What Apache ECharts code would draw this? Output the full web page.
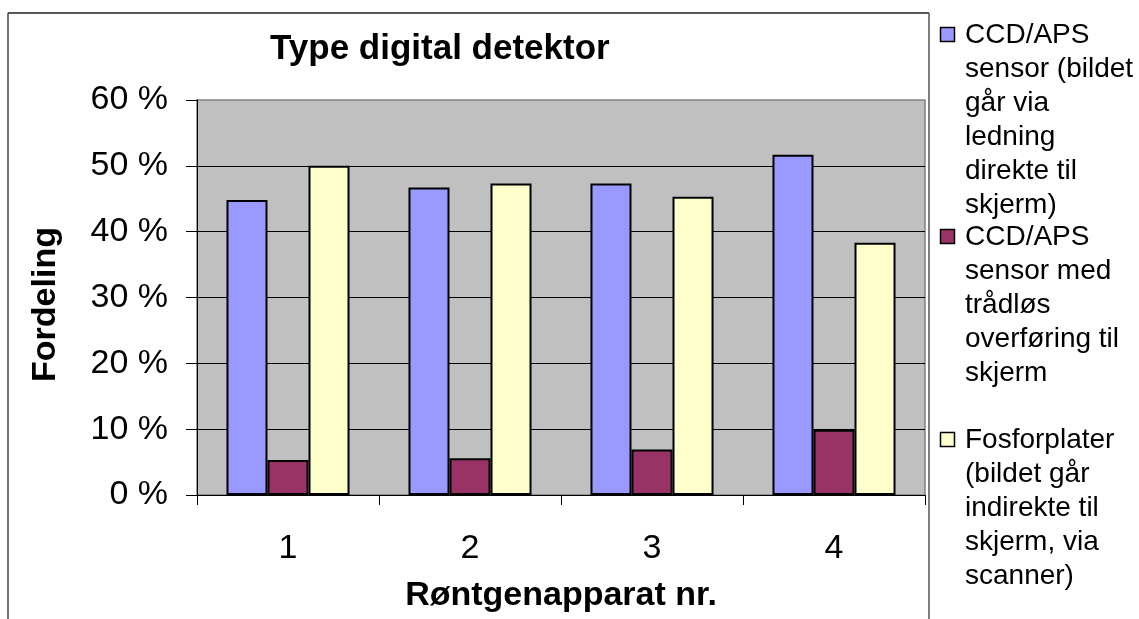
<!DOCTYPE html>
<html>
<head>
<meta charset="utf-8">
<script src="https://cdn.jsdelivr.net/npm/echarts@6/dist/echarts.min.js"></script>
<style>
  html, body { margin: 0; padding: 0; background: #fff; }
  #chart { width: 1139px; height: 619px; }
</style>
</head>
<body>
<div id="chart"></div>
<script>
// ---- data ----
var categories = ['1', '2', '3', '4'];
var seriesNames = [
  'CCD/APS sensor (bildet går via ledning direkte til skjerm)',
  'CCD/APS sensor med trådløs overføring til skjerm',
  'Fosforplater (bildet går indirekte til skjerm, via scanner)'
];
var legendLines = [
  'CCD/APS\nsensor (bildet\ngår via\nledning\ndirekte til\nskjerm)',
  'CCD/APS\nsensor med\ntrådløs\noverføring til\nskjerm',
  'Fosforplater\n(bildet går\nindirekte til\nskjerm, via\nscanner)'
];
var wiredValues = [44.8, 46.7, 47.3, 51.7];
var wirelessValues = [5.3, 5.6, 6.9, 9.9];
var phosphorValues = [50.0, 47.3, 45.3, 38.3];
var yTicks = [0, 10, 20, 30, 40, 50, 60];
var colors = ['#9999FF', '#993366', '#FFFFCC'];
var titleText = 'Type digital detektor';
var yName = 'Fordeling';
var xName = 'Røntgenapparat nr.';

var FONT = '"Liberation Sans", Arial, sans-serif';
var chart = echarts.init(document.getElementById('chart'));

var legendTops = [18, 220, 423];
var graphics = [
  { type: 'line', shape: { x1: 8, y1: 13, x2: 929, y2: 13 }, style: { stroke: '#222', lineWidth: 1.5 } },
  { type: 'line', shape: { x1: 8, y1: 13, x2: 8, y2: 619 }, style: { stroke: '#444', lineWidth: 1.5 } },
  { type: 'line', shape: { x1: 929, y1: 13, x2: 929, y2: 619 }, style: { stroke: '#555', lineWidth: 1.5 } }
];
legendLines.forEach(function (txt, i) {
  graphics.push({
    type: 'rect',
    shape: { x: 940.5, y: legendTops[i] + 9.5, width: 14, height: 14 },
    style: { fill: colors[i], stroke: '#000', lineWidth: 1.5 }
  });
  graphics.push({
    type: 'text',
    x: 965, y: legendTops[i],
    style: { text: txt, font: '28px ' + FONT, fill: '#000', lineHeight: 34, textVerticalAlign: 'top' }
  });
});

var barStyle = function (c) {
  return { color: c, borderColor: '#000', borderWidth: 2 };
};

chart.setOption({
  animation: false,
  backgroundColor: '#fff',
  title: {
    text: titleText,
    left: 265, top: 27,
    textStyle: { fontFamily: FONT, fontSize: 35, fontWeight: 'bold', color: '#000' }
  },
  grid: {
    left: 197, top: 100, right: 214, bottom: 124,
    show: true, backgroundColor: '#C0C0C0', borderColor: '#808080', borderWidth: 1.5
  },
  xAxis: {
    type: 'category',
    data: categories,
    name: xName,
    nameLocation: 'middle',
    nameGap: 84,
    nameTextStyle: { fontFamily: FONT, fontSize: 34, fontWeight: 'bold', color: '#000' },
    axisLine: { lineStyle: { color: '#000', width: 1 } },
    axisTick: { show: true, length: 10, lineStyle: { color: '#000' } },
    axisLabel: { fontFamily: FONT, fontSize: 34, color: '#000', margin: 37 }
  },
  yAxis: {
    type: 'value',
    min: yTicks[0], max: yTicks[yTicks.length - 1], interval: 10,
    name: yName,
    nameLocation: 'middle',
    nameRotate: 90,
    nameGap: 134,
    nameTextStyle: { fontFamily: FONT, fontSize: 34, fontWeight: 'bold', color: '#000', padding: [0, 14, 0, 0] },
    axisLine: { show: true, lineStyle: { color: '#000', width: 1 } },
    axisTick: { show: true, length: 11, lineStyle: { color: '#000' } },
    axisLabel: { fontFamily: FONT, fontSize: 34, color: '#000', margin: 29, formatter: '{value} %' },
    splitLine: { show: true, showMinLine: false, showMaxLine: false, lineStyle: { color: '#000', width: 1 } }
  },
  graphic: graphics,
  series: [
    { name: seriesNames[0], type: 'bar', data: wiredValues, barGap: '0%', barCategoryGap: '32.4%', itemStyle: barStyle(colors[0]) },
    { name: seriesNames[1], type: 'bar', data: wirelessValues, barGap: '0%', barCategoryGap: '32.4%', itemStyle: barStyle(colors[1]) },
    { name: seriesNames[2], type: 'bar', data: phosphorValues, barGap: '0%', barCategoryGap: '32.4%', itemStyle: barStyle(colors[2]) }
  ]
});
</script>
</body>
</html>
